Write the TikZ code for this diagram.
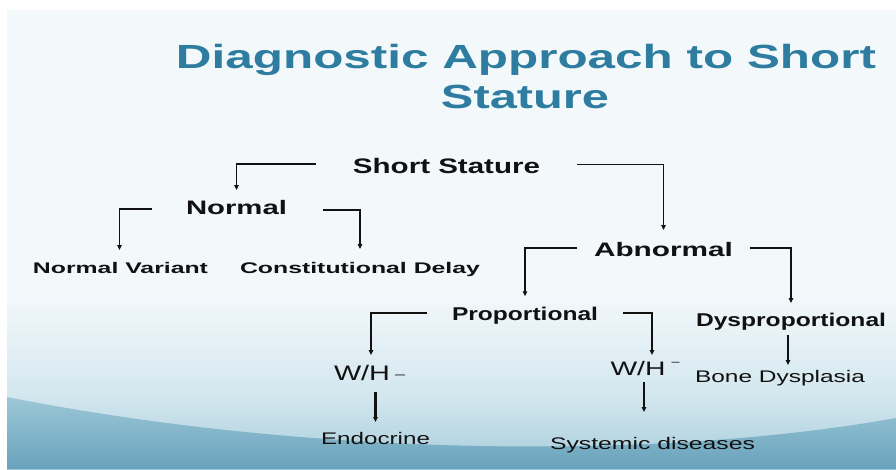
\documentclass[tikz,border=0pt]{standalone}
\usepackage{fontspec}
\setmainfont{Liberation Sans}
\usepackage{graphicx}
\usetikzlibrary{arrows.meta,calc}
\definecolor{titleblue}{HTML}{2E7DA1}
\definecolor{bgtop}{HTML}{F3F8FB}
\definecolor{bgmid}{HTML}{D3E7EF}
\definecolor{bglow}{HTML}{A6CCDB}
\definecolor{wavetop}{HTML}{9DC7D7}
\definecolor{wavebot}{HTML}{68A2BC}
\definecolor{ink}{HTML}{111111}
\pgfdeclareverticalshading{slidebg}{100bp}{color(0bp)=(bglow); color(25bp)=(bglow); color(33bp)=(bgmid); color(44bp)=(bgtop); color(100bp)=(bgtop)}
\newcommand{\fitw}[3]{\resizebox{#1pt}{\height}{\fontsize{#2}{#2}\selectfont #3}}
\begin{document}
\begin{tikzpicture}[x=1pt,y=-1pt,
  lbl/.style={inner sep=0pt,outer sep=0pt,text depth=0pt,anchor=center,text=ink},
  arr/.style={draw=ink,line width=1.2pt,-{Triangle[length=5pt,width=4.5pt]}}]
\useasboundingbox (0,0) rectangle (896,469);
\fill[white] (0,0) rectangle (896,469);
\shade[shading=slidebg] (7,10) rectangle (896,469);
\shade[top color=wavetop,bottom color=wavebot] (7,397) .. controls (300,455) and (650,462) .. (896,418) -- (896,469) -- (7,469) -- cycle;

\node[lbl,anchor=base,text=titleblue] (t1) at (526,68) {\bfseries\fitw{700}{33.5}{Diagnostic Approach to Short}};
\node[lbl,anchor=base,text=titleblue] (t2) at (525,108) {\bfseries\fitw{168}{33.5}{Stature}};

\node[lbl,text height=15pt] (ss) at (446.5,165.5) {\bfseries\fitw{187}{21}{Short Stature}};
\node[lbl,text height=14pt] (nm) at (236.5,207) {\bfseries\fitw{101}{19.5}{Normal}};
\node[lbl,text height=11pt] (nv) at (120.5,267.5) {\bfseries\fitw{175}{15.4}{Normal Variant}};
\node[lbl,text height=11pt] (cd) at (360,267.5) {\bfseries\fitw{240}{15.4}{Constitutional Delay}};
\node[lbl,text height=14pt] (ab) at (663.5,249) {\bfseries\fitw{139}{19.5}{Abnormal}};
\node[lbl,text height=13.5pt] (pr) at (525,314) {\bfseries\fitw{146}{18.5}{Proportional}};
\node[lbl,text height=13pt] (dp) at (791,319.5) {\bfseries\fitw{190}{18.5}{Dysproportional}};
\node[lbl,text height=15pt] (wh1) at (369.5,372.5) {\fitw{56}{21}{W/H}\hspace{5pt}\raisebox{2pt}{\fitw{10}{12}{–}}};
\node[lbl,text height=14pt] (wh2) at (645,368) {\fitw{55}{19.5}{W/H}\hspace{6pt}\raisebox{10pt}{\fitw{8}{11}{–}}};
\node[lbl,text height=12pt] (bd) at (780,376) {\fitw{170}{16.8}{Bone Dysplasia}};
\node[lbl,text height=12pt] (en) at (375.5,438) {\fitw{109}{16.8}{Endocrine}};
\node[lbl,text height=12pt] (sd) at (652.5,443) {\fitw{205}{16.8}{Systemic diseases}};

\draw[arr] ($(ss.west)+(-37,-1.5)$) -| ($(nm.north)+(0,-10)$);
\draw[arr] ($(ss.east)+(37,-1)$) -| ($(ab.north)+(0,-12)$);
\draw[arr] ($(nm.west)+(-34,2)$) -| ($(nv.north)+(-1,-12)$);
\draw[arr] ($(nm.east)+(36,3)$) -| ($(cd.north)+(0,-13)$);
\draw[arr] ($(ab.west)+(-17,-1)$) -| ($(pr.north)+(0,-11)$);
\draw[arr] ($(ab.east)+(17,-1)$) -| ($(dp.north)+(0,-10)$);
\draw[arr] ($(pr.west)+(-25,-1)$) -| ($(wh1.north)+(1.5,-10)$);
\draw[arr] ($(pr.east)+(25,-1)$) -| ($(wh2.north)+(7,-6)$);
\draw[arr] ($(dp.south)+(-3,9)$) -- ($(dp.south |- bd.north)+(-3,-5)$);
\draw[arr,line width=2.2pt] ($(wh1.south -| en.north)+(0,12)$) -- ($(en.north)+(0,-10)$);
\draw[arr] ($(wh2.south)+(-1,7)$) -- ($(wh2.south |- sd.north)+(-1,-25)$);
\end{tikzpicture}
\end{document}
